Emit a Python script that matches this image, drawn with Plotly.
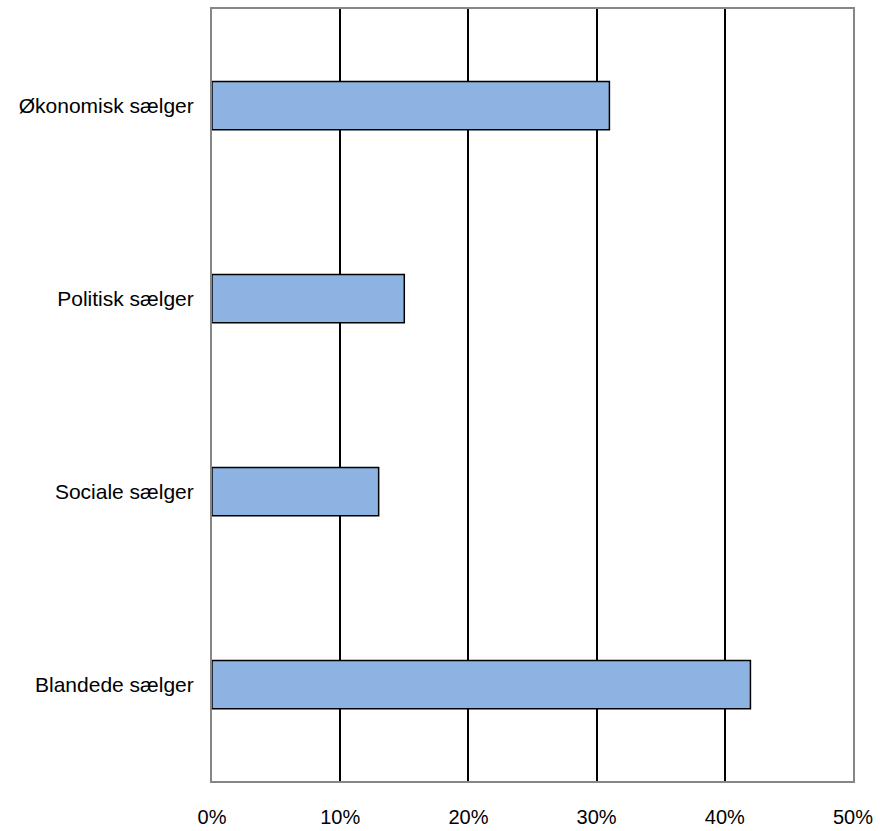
import plotly.graph_objects as go

categories = ["Økonomisk sælger", "Politisk sælger", "Sociale sælger", "Blandede sælger"]
shares = [31, 15, 13, 42]
tick_values = [0, 10, 20, 30, 40, 50]
tick_labels = ["0%", "10%", "20%", "30%", "40%", "50%"]

fig = go.Figure(
    go.Bar(
        x=shares,
        y=categories,
        orientation="h",
        width=0.25,
        marker=dict(color="#8DB3E2", line=dict(color="#000000", width=1.5)),
    )
)

fig.update_layout(
    width=880,
    height=831,
    margin=dict(l=212, r=27, t=9, b=50),
    plot_bgcolor="white",
    paper_bgcolor="white",
    showlegend=False,
    font=dict(family="Liberation Sans, Arial, sans-serif", size=21, color="#000000"),
)

fig.update_xaxes(
    range=[0, 50],
    tickvals=tick_values,
    ticktext=tick_labels,
    showgrid=True,
    gridcolor="#000000",
    gridwidth=2,
    zeroline=False,
    showline=True,
    linecolor="#868686",
    linewidth=2,
    mirror=True,
    ticks="",
    ticklabelstandoff=17,
    tickfont=dict(size=20),
    automargin=False,
)

fig.update_yaxes(
    categoryorder="array",
    categoryarray=categories,
    autorange="reversed",
    showgrid=False,
    zeroline=False,
    showline=True,
    linecolor="#868686",
    linewidth=2,
    mirror=True,
    ticks="",
    ticklabelstandoff=12,
    automargin=False,
)

fig.write_html("out.html")
